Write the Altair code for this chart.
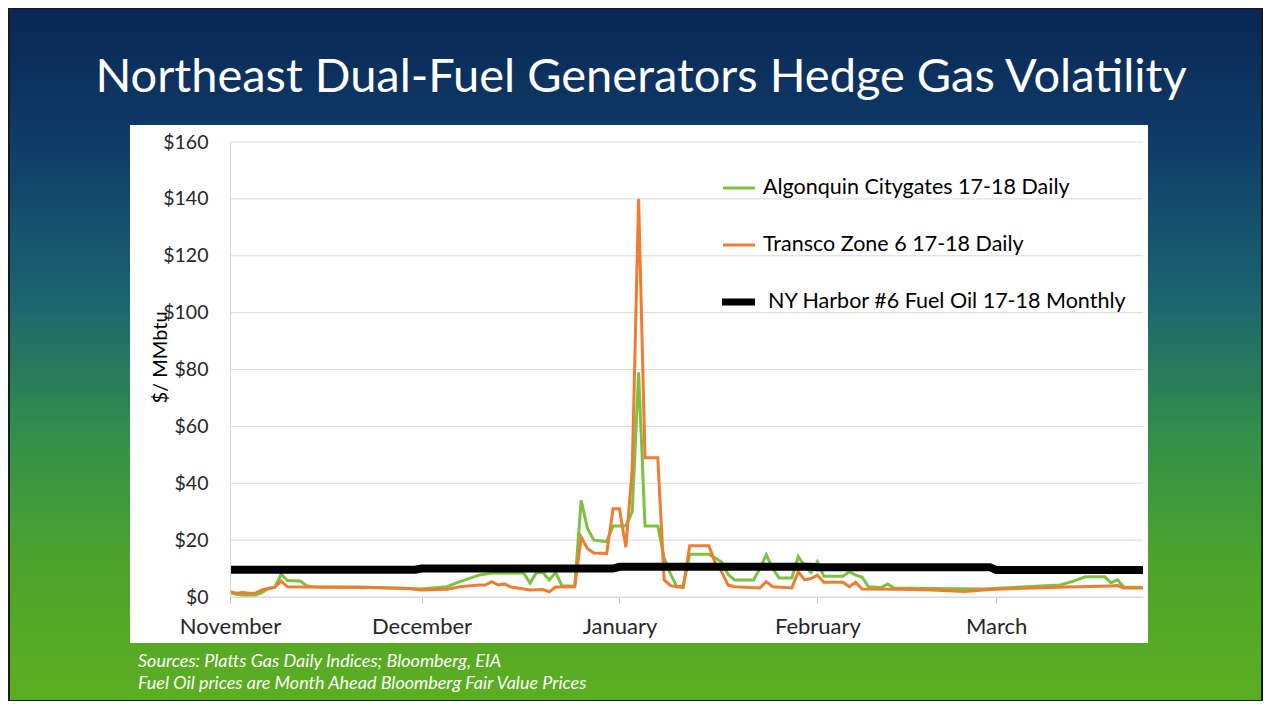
import altair as alt
import pandas as pd

# ---------------- data ----------------
alg_dates = ["2017-11-01", "2017-11-02", "2017-11-03", "2017-11-05", "2017-11-06", "2017-11-07",
             "2017-11-08", "2017-11-09", "2017-11-10", "2017-11-12", "2017-11-13", "2017-11-14",
             "2017-11-21", "2017-11-29",
             "2017-12-01", "2017-12-05", "2017-12-07", "2017-12-10", "2017-12-12", "2017-12-17",
             "2017-12-18", "2017-12-19", "2017-12-20", "2017-12-21", "2017-12-22", "2017-12-23",
             "2017-12-25", "2017-12-26", "2017-12-27", "2017-12-28", "2017-12-30", "2017-12-31",
             "2018-01-02", "2018-01-03", "2018-01-04", "2018-01-05", "2018-01-07", "2018-01-08",
             "2018-01-09", "2018-01-10", "2018-01-11", "2018-01-12", "2018-01-15", "2018-01-16",
             "2018-01-17", "2018-01-18", "2018-01-19", "2018-01-22", "2018-01-23", "2018-01-24",
             "2018-01-25", "2018-01-26", "2018-01-28", "2018-01-29", "2018-01-30", "2018-01-31",
             "2018-02-01", "2018-02-02", "2018-02-05", "2018-02-06", "2018-02-07", "2018-02-08",
             "2018-02-09", "2018-02-11", "2018-02-12", "2018-02-13", "2018-02-19", "2018-02-27",
             "2018-03-02", "2018-03-05", "2018-03-11", "2018-03-13", "2018-03-15", "2018-03-18",
             "2018-03-19", "2018-03-20", "2018-03-21", "2018-03-24"]
alg_vals = [1.5, 1.0, 0.7, 0.7, 1.5, 3.0, 3.4, 8.0, 5.8, 5.6, 4.0, 3.6, 3.5, 3.0,
            2.8, 3.6, 5.4, 7.7, 8.4, 8.4, 4.9, 8.6, 8.6, 6.0, 8.6, 4.0, 3.8, 34, 24, 20, 19.5, 25,
            25, 30, 79, 25, 25, 13.7, 8, 3.6, 4, 15, 15, 13.7, 12.3, 8, 6, 6, 10, 14.8, 10, 6.7,
            6.7, 14.2, 11, 8.6,
            12.4, 7.3, 7.3, 8.9, 7.7, 7.0, 3.6, 3.3, 4.6, 3.2, 3.0, 2.8,
            3.2, 3.5, 4.2, 5.5, 7.1, 7.1, 5.0, 6.0, 3.5, 3.3]

tz_dates = ["2017-11-01", "2017-11-02", "2017-11-03", "2017-11-04", "2017-11-05", "2017-11-06",
            "2017-11-07", "2017-11-08", "2017-11-09", "2017-11-10", "2017-11-16", "2017-11-23",
            "2017-11-29",
            "2017-12-01", "2017-12-05", "2017-12-07", "2017-12-10", "2017-12-11", "2017-12-12",
            "2017-12-13", "2017-12-14", "2017-12-15", "2017-12-18", "2017-12-20", "2017-12-21",
            "2017-12-22", "2017-12-25", "2017-12-26", "2017-12-27", "2017-12-28", "2017-12-30",
            "2017-12-31",
            "2018-01-01", "2018-01-02", "2018-01-03", "2018-01-04", "2018-01-05", "2018-01-07",
            "2018-01-08", "2018-01-09", "2018-01-10", "2018-01-11", "2018-01-12", "2018-01-15",
            "2018-01-16", "2018-01-17", "2018-01-18", "2018-01-19", "2018-01-23", "2018-01-24",
            "2018-01-25", "2018-01-28", "2018-01-29", "2018-01-30", "2018-01-31",
            "2018-02-01", "2018-02-02", "2018-02-05", "2018-02-06", "2018-02-07", "2018-02-08",
            "2018-02-14", "2018-02-19", "2018-02-24", "2018-02-28",
            "2018-03-02", "2018-03-12", "2018-03-19", "2018-03-20", "2018-03-21", "2018-03-24"]
tz_vals = [1.9, 1.3, 1.6, 1.3, 1.4, 2.5, 3.0, 3.4, 5.6, 3.6, 3.4, 3.3, 3.0,
           2.5, 2.7, 3.6, 4.2, 4.2, 5.4, 4.2, 4.6, 3.5, 2.5, 2.6, 1.8, 3.5, 3.6, 21, 17, 15.5,
           15.3, 31,
           31, 17.5, 45, 140, 49, 49, 6, 4, 3.6, 3.4, 18, 18, 12, 8.9, 4.2, 3.6, 3.2, 5.4, 3.6,
           3.2, 8.9, 6.0, 6.5,
           7.7, 5.2, 5.2, 3.6, 5.2, 2.8, 2.7, 2.5, 1.9, 2.6,
           2.8, 3.5, 3.9, 4.0, 3.2, 3.2]

oil_dates = ["2017-11-01", "2017-11-30", "2017-12-01", "2017-12-31", "2018-01-01", "2018-01-31",
             "2018-02-01", "2018-02-28", "2018-03-01", "2018-03-24"]
oil_vals = [9.6, 9.6, 10.0, 10.0, 10.6, 10.6, 10.5, 10.5, 9.5, 9.5]

series_names = ["Algonquin Citygates 17-18 Daily",
                "Transco Zone 6 17-18 Daily",
                "NY Harbor #6 Fuel Oil 17-18 Monthly"]
y_ticks = [0, 20, 40, 60, 80, 100, 120, 140, 160]
month_ticks = [(2017, 11), (2017, 12), (2018, 1), (2018, 2), (2018, 3)]
x_start = (2017, 11, 1)
x_end = (2018, 3, 24)

title_text = "Northeast Dual-Fuel Generators Hedge Gas Volatility"
y_title = "$/ MMbtu"
source_lines = ["Sources: Platts Gas Daily Indices; Bloomberg, EIA",
                "Fuel Oil prices are Month Ahead Bloomberg Fair Value Prices"]

# ---------------- layout / style ----------------
W, H = 913, 455
PAD_L, PAD_T, PAD_R, PAD_B = 222, 134, 120, 104
FONT = "Lato"
GREEN = "#7cc242"
ORANGE = "#ed7d31"
BLACK = "#000000"
GRID = "#d9d9d9"

df_alg = pd.DataFrame({"date": alg_dates, "value": alg_vals})
df_tz = pd.DataFrame({"date": tz_dates, "value": tz_vals})
df_oil = pd.DataFrame({"date": oil_dates, "value": oil_vals})
df_grid = pd.DataFrame({"value": y_ticks})
one = pd.DataFrame({"k": [0]})

x_scale = alt.Scale(
    type="utc",
    domain=[alt.DateTime(year=x_start[0], month=x_start[1], date=x_start[2], utc=True),
            alt.DateTime(year=x_end[0], month=x_end[1], date=x_end[2], utc=True)],
)
y_scale = alt.Scale(domain=[0, 160], nice=False)

x_axis = alt.Axis(
    values=[alt.DateTime(year=y, month=m, date=1, utc=True) for y, m in month_ticks],
    labelExpr="utcFormat(datum.value, '%B')",
    grid=False, domainColor=GRID, tickColor="#bfbfbf", tickSize=6,
    labelFont=FONT, labelFontSize=22, labelColor="#262626", labelPadding=13,
    title=None, zindex=1, labelFlush=False,
)
y_axis = alt.Axis(
    values=y_ticks, labelExpr="'$' + datum.value", grid=False, ticks=False,
    domainColor=GRID, labelFont=FONT, labelFontSize=19.5, labelColor="#262626",
    labelPadding=22, title=y_title, titleFont=FONT, titleFontSize=20,
    titleFontWeight="normal", titleColor="#000000", titleX=-70, titleY=215,
    titleAlign="center", titleBaseline="middle", titleAngle=-90, zindex=1,
)

X = alt.X("date:T", scale=x_scale, axis=x_axis)
Y = alt.Y("value:Q", scale=y_scale, axis=y_axis)

gradient = alt.LinearGradient(
    gradient="linear", x1=0, x2=0, y1=0, y2=1,
    stops=[alt.GradientStop(offset=0.0, color="#0a2654"),
           alt.GradientStop(offset=0.20, color="#0f3d69"),
           alt.GradientStop(offset=0.42, color="#1c6470"),
           alt.GradientStop(offset=0.62, color="#33904a"),
           alt.GradientStop(offset=0.80, color="#4ea42c"),
           alt.GradientStop(offset=1.0, color="#5cae20")],
)

bg = alt.Chart(one).mark_rect(fill=gradient, stroke="#1a1a1a", strokeWidth=2).encode(
    x=alt.value(-PAD_L + 1), x2=alt.value(W + PAD_R - 1),
    y=alt.value(-PAD_T), y2=alt.value(H + PAD_B),
)
white_box = alt.Chart(one).mark_rect(fill="white").encode(
    x=alt.value(-100), x2=alt.value(918), y=alt.value(-17), y2=alt.value(501),
)
grid = alt.Chart(df_grid).mark_rule(color=GRID, strokeWidth=1).encode(
    y=Y, x=alt.value(0), x2=alt.value(W),
)
line_alg = alt.Chart(df_alg).mark_line(color=GREEN, strokeWidth=3).encode(x=X, y=Y)
line_tz = alt.Chart(df_tz).mark_line(color=ORANGE, strokeWidth=3).encode(x=X, y=Y)
line_oil = alt.Chart(df_oil).mark_line(color=BLACK, strokeWidth=8).encode(x=X, y=Y)

title = alt.Chart(one).mark_text(
    text=title_text, font=FONT, fontSize=47, color="white", align="center",
    baseline="alphabetic",
).encode(x=alt.value(411), y=alt.value(-50))

sources = alt.Chart(one).mark_text(
    text=source_lines, font=FONT, fontSize=18, fontStyle="italic", color="white",
    align="left", baseline="middle", lineHeight=22,
).encode(x=alt.value(-92), y=alt.value(520))

legend_layers = []
leg_colors = [GREEN, ORANGE, BLACK]
leg_widths = [3, 3, 7]
leg_y = [46, 103, 160]
leg_sym_x = [(493, 525), (493, 525), (492, 525)]
leg_text_x = [533, 533, 538]
for name, col, sw, ly, (sx1, sx2), tx in zip(series_names, leg_colors, leg_widths, leg_y,
                                             leg_sym_x, leg_text_x):
    legend_layers.append(
        alt.Chart(one).mark_rule(color=col, strokeWidth=sw).encode(
            x=alt.value(sx1), x2=alt.value(sx2), y=alt.value(ly))
    )
    legend_layers.append(
        alt.Chart(one).mark_text(
            text=name, font=FONT, fontSize=21.5, color="#000000", align="left",
            baseline="middle").encode(x=alt.value(tx), y=alt.value(ly))
    )

chart = alt.layer(
    bg, white_box, grid, line_alg, line_tz, line_oil, title, sources, *legend_layers
).properties(
    width=W, height=H,
    padding={"left": PAD_L, "top": PAD_T, "right": PAD_R, "bottom": PAD_B},
    autosize=alt.AutoSizeParams(type="none"),
).configure_view(stroke=None)

chart.save("out.html", embed_options={"renderer": "svg", "actions": False})
